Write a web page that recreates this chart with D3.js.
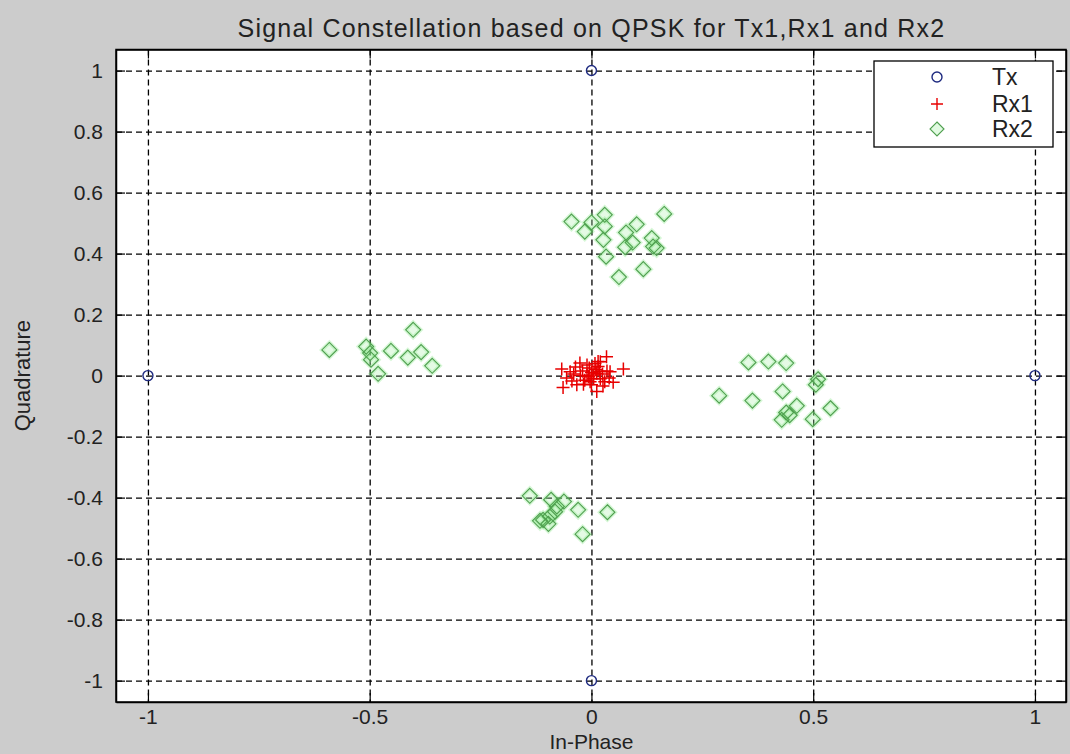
<!DOCTYPE html>
<html>
<head>
<meta charset="utf-8">
<script src="https://cdnjs.cloudflare.com/ajax/libs/d3/7.8.5/d3.min.js"></script>
<style>
  body { margin: 0; background: #cccccc; }
  svg { display: block; font-family: "Liberation Sans", Arial, sans-serif; }
  .grid line { stroke: #000; stroke-dasharray: 6,4; stroke-width: 1.3; }
  .grid path { display: none; }
  .axis path { stroke: #000; stroke-width: 1.5; fill: none; }
  .axis line { stroke: #000; stroke-width: 1.2; }
  .axis text { font-size: 21px; fill: #222; }
</style>
</head>
<body>
<svg id="chart"></svg>
<script>
// constellation points
const txPoints = [[1, 0], [0, 1], [-1, 0], [0, -1]]

const rx1Points = [
  [-0.067, 0.022], [0.072, 0.022], [0.034, 0.062], [0.015, 0.046], [-0.026, 0.041],
  [-0.048, 0.013], [-0.056, -0.008], [-0.064, -0.039], [-0.033, -0.030], [0.049, -0.022],
  [0.042, 0.013], [0.012, -0.052], [-0.003, -0.020], [0.0, 0.010], [0.010, 0.020],
  [-0.010, 0.0], [0.020, -0.010], [-0.020, 0.015], [0.005, -0.010], [0.015, 0.030],
  [-0.015, -0.015], [0.025, 0.005], [-0.005, 0.025], [0.030, -0.020], [-0.025, 0.0],
  [0.008, 0.040], [0.0, -0.030], [-0.040, 0.005], [0.035, 0.015], [0.020, 0.045],
  [-0.010, 0.035], [0.004, 0.002], [-0.018, -0.028], [0.026, -0.034], [-0.036, 0.028],
  [0.040, -0.008], [-0.044, -0.018], [0.012, 0.008], [-0.006, -0.004], [0.018, 0.014]
]

const rx2Points = [
  // top
  [-0.045, 0.505], [0.0, 0.502], [0.030, 0.527], [-0.015, 0.472], [0.030, 0.489],
  [0.027, 0.445], [0.078, 0.469], [0.102, 0.496], [0.164, 0.530], [0.093, 0.436],
  [0.076, 0.421], [0.136, 0.451], [0.139, 0.423], [0.147, 0.418], [0.033, 0.390],
  [0.117, 0.349], [0.062, 0.323],
  // left
  [-0.591, 0.084], [-0.508, 0.095], [-0.499, 0.074], [-0.497, 0.052], [-0.481, 0.006],
  [-0.452, 0.081], [-0.402, 0.150], [-0.414, 0.059], [-0.384, 0.077], [-0.359, 0.032],
  // right
  [0.354, 0.043], [0.399, 0.046], [0.439, 0.041], [0.511, -0.012], [0.506, -0.030],
  [0.288, -0.066], [0.363, -0.082], [0.431, -0.052], [0.463, -0.099], [0.439, -0.121],
  [0.429, -0.145], [0.539, -0.107], [0.499, -0.143], [0.447, -0.130],
  // bottom
  [-0.139, -0.394], [-0.091, -0.407], [-0.062, -0.413], [-0.078, -0.429], [-0.082, -0.446],
  [-0.109, -0.473], [-0.097, -0.486], [-0.094, -0.462], [-0.030, -0.440], [0.036, -0.448],
  [-0.020, -0.520], [-0.116, -0.476]
]

const xTicks = [-1, -0.5, 0, 0.5, 1]
const yTicks = [-1, -0.8, -0.6, -0.4, -0.2, 0, 0.2, 0.4, 0.6, 0.8, 1]
const legendLabels = ['Tx', 'Rx1', 'Rx2']

const width = 1070
const height = 754
const margin = { top: 49.5, right: 4, bottom: 52, left: 116 }

const svg = d3.select('#chart').attr('width', width).attr('height', height)

svg.append('rect').attr('width', width).attr('height', height).attr('fill', '#cccccc')

const x = d3.scaleLinear().domain([-1.072, 1.07]).range([margin.left, width - margin.right])
const y = d3.scaleLinear().domain([-1.07, 1.069]).range([height - margin.bottom, margin.top])

const plotW = x.range()[1] - x.range()[0]
const plotH = y.range()[0] - y.range()[1]

svg.append('rect')
  .attr('x', margin.left).attr('y', margin.top)
  .attr('width', plotW).attr('height', plotH)
  .attr('fill', '#fff')

// grid
svg.append('g').attr('class', 'grid')
  .attr('transform', `translate(0,${margin.top})`)
  .call(d3.axisBottom(x).tickValues(xTicks).tickSize(plotH).tickFormat(''))
svg.append('g').attr('class', 'grid')
  .attr('transform', `translate(${margin.left},0)`)
  .call(d3.axisRight(y).tickValues(yTicks).tickSize(plotW).tickFormat(''))

// axes, ticks pointing inward on all four sides
const fmt = d => String(d)
svg.append('g').attr('class', 'axis')
  .attr('transform', `translate(0,${y.range()[0]})`)
  .call(d3.axisBottom(x).tickValues(xTicks).tickSize(-9).tickSizeOuter(0).tickPadding(7).tickFormat(fmt))
svg.append('g').attr('class', 'axis')
  .attr('transform', `translate(0,${margin.top})`)
  .call(d3.axisTop(x).tickValues(xTicks).tickSize(-9).tickSizeOuter(0).tickFormat(''))
svg.append('g').attr('class', 'axis')
  .attr('transform', `translate(${margin.left},0)`)
  .call(d3.axisLeft(y).tickValues(yTicks).tickSize(-9).tickSizeOuter(0).tickPadding(13).tickFormat(fmt))
svg.append('g').attr('class', 'axis')
  .attr('transform', `translate(${x.range()[1]},0)`)
  .call(d3.axisRight(y).tickValues(yTicks).tickSize(-9).tickSizeOuter(0).tickFormat(''))

svg.append('rect')
  .attr('x', margin.left).attr('y', margin.top)
  .attr('width', plotW).attr('height', plotH)
  .attr('fill', 'none').attr('stroke', '#000').attr('stroke-width', 1.5)

// markers
const diamond = s => `M0,${-s}L${s},0L0,${s}L${-s},0Z`
const cross = s => `M${-s},0H${s}M0,${-s}V${s}`

const rx2 = svg.append('g')
rx2.selectAll('path.halo').data(rx2Points).join('path')
  .attr('class', 'halo')
  .attr('transform', d => `translate(${x(d[0])},${y(d[1])})`)
  .attr('d', diamond(7.5))
  .attr('fill', 'rgba(170,240,170,0.3)')
  .attr('stroke', 'rgba(120,230,120,0.3)')
  .attr('stroke-width', 4)
rx2.selectAll('path.mk').data(rx2Points).join('path')
  .attr('class', 'mk')
  .attr('transform', d => `translate(${x(d[0])},${y(d[1])})`)
  .attr('d', diamond(7.5))
  .attr('fill', 'none')
  .attr('stroke', '#4f9f4f')
  .attr('stroke-width', 1.1)

svg.append('g').selectAll('path').data(rx1Points).join('path')
  .attr('transform', d => `translate(${x(d[0])},${y(d[1])})`)
  .attr('d', cross(6.5))
  .attr('stroke', '#e80000')
  .attr('stroke-width', 1.5)

svg.append('g').selectAll('circle').data(txPoints).join('circle')
  .attr('cx', d => x(d[0])).attr('cy', d => y(d[1]))
  .attr('r', 5)
  .attr('fill', 'none')
  .attr('stroke', '#1e2a80')
  .attr('stroke-width', 1.4)

// legend
const legend = svg.append('g').attr('transform', 'translate(874,61)')
legend.append('rect').attr('width', 179).attr('height', 86)
  .attr('fill', '#fff').attr('stroke', '#000').attr('stroke-width', 1.3)
const rowY = [16, 43, 68]
legendLabels.forEach((label, i) => {
  const g = legend.append('g').attr('transform', `translate(63,${rowY[i]})`)
  if (i === 0) {
    g.append('circle').attr('r', 5).attr('fill', 'none').attr('stroke', '#1e2a80').attr('stroke-width', 1.4)
  } else if (i === 1) {
    g.append('path').attr('d', cross(6)).attr('stroke', '#e80000').attr('stroke-width', 1.4)
  } else {
    g.append('path').attr('d', diamond(7)).attr('fill', 'rgba(170,240,170,0.35)').attr('stroke', '#4f9f4f').attr('stroke-width', 1.1)
  }
  g.append('text').attr('x', 55).attr('dy', '0.36em')
    .attr('font-size', 23).attr('fill', '#222').text(label)
})

// titles
svg.append('text')
  .attr('x', x(0)).attr('y', 37)
  .attr('text-anchor', 'middle').attr('font-size', 25).attr('letter-spacing', 1.2).attr('fill', '#222')
  .text('Signal Constellation based on QPSK for Tx1,Rx1 and Rx2')

svg.append('text')
  .attr('x', x(0)).attr('y', 749)
  .attr('text-anchor', 'middle').attr('font-size', 21).attr('fill', '#222')
  .text('In-Phase')

svg.append('text')
  .attr('transform', `translate(30,${y(0)}) rotate(-90)`)
  .attr('text-anchor', 'middle').attr('font-size', 22).attr('fill', '#222')
  .text('Quadrature')
</script>
</body>
</html>
